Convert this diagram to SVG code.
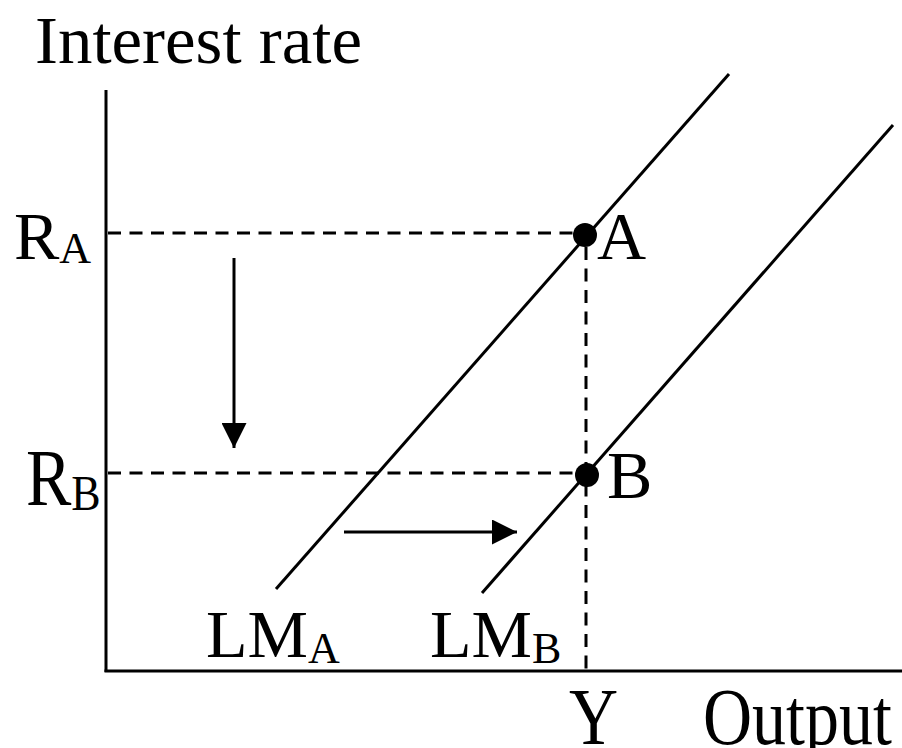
<svg xmlns="http://www.w3.org/2000/svg" width="902" height="748" viewBox="0 0 902 748">
<style>
text{font-family:"Liberation Serif","Times New Roman",serif;fill:#000}
.lbl{font-size:68px}
.sub{font-size:44px}
.ax{stroke:#000;stroke-width:3;fill:none}
.dash{stroke:#000;stroke-width:3;stroke-dasharray:13 8.5;fill:none}
.ln{stroke:#000;stroke-width:3;fill:none}
</style>
<defs>
<marker id="ah" viewBox="0 0 10 10" refX="10" refY="5" markerWidth="25" markerHeight="25" markerUnits="userSpaceOnUse" orient="auto">
<path d="M0,0 L10,5 L0,10 z" fill="#000"/>
</marker>
</defs>
<rect width="902" height="748" fill="#fff"/>
<g id="axes">
<line class="ax" x1="106" y1="90" x2="106" y2="672"/>
<line class="ax" x1="104.5" y1="671" x2="902" y2="671"/>
<text x="35" y="63" class="lbl" textLength="327" lengthAdjust="spacingAndGlyphs">Interest rate</text>
<text transform="translate(703,744) scale(1,1.17)" x="0" y="0" class="lbl">Output</text>
<text transform="translate(569,744) scale(1,1.17)" x="0" y="0" class="lbl">Y</text>
<text x="14" y="259" class="lbl">R<tspan class="sub" dy="4">A</tspan></text>
<text transform="translate(26,505) scale(1,1.17)" x="0" y="0" class="lbl">R<tspan class="sub" dy="4">B</tspan></text>
</g>
<g id="connectors">
<line class="dash" x1="108" y1="233" x2="585" y2="233"/>
<line class="dash" x1="108" y1="473" x2="587" y2="473"/>
<line class="dash" x1="586" y1="247" x2="586" y2="670"/>
<line class="ln" x1="234" y1="258" x2="234" y2="448" marker-end="url(#ah)"/>
<line class="ln" x1="344" y1="532" x2="517" y2="532" marker-end="url(#ah)"/>
</g>
<g id="LMA">
<line class="ln" x1="276" y1="589" x2="729" y2="74"/>
<text x="206" y="657" class="lbl">LM<tspan class="sub" dy="6">A</tspan></text>
</g>
<g id="LMB">
<line class="ln" x1="482" y1="593" x2="893" y2="125"/>
<text x="430" y="657" class="lbl">LM<tspan class="sub" dy="6">B</tspan></text>
</g>
<g id="pointA">
<circle cx="585" cy="235" r="12" fill="#000"/>
<text x="597" y="259" class="lbl">A</text>
</g>
<g id="pointB">
<circle cx="587" cy="475" r="12" fill="#000"/>
<text x="607" y="498" class="lbl">B</text>
</g>
</svg>
